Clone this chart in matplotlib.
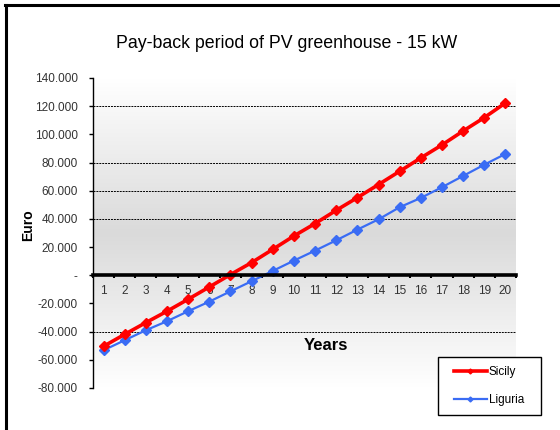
import matplotlib
matplotlib.use('Agg')
import matplotlib.pyplot as plt
import numpy as np
from matplotlib.lines import Line2D
from matplotlib.patches import Rectangle
from matplotlib.colors import LinearSegmentedColormap

plt.rcParams['font.family'] = ['Liberation Sans', 'DejaVu Sans']

years = list(range(1, 21))
sicily = [-50400, -41900, -33600, -25500, -17000, -8300, 500, 9000, 18400, 27900,
          36700, 46100, 55100, 64400, 73800, 83300, 92500, 102400, 111900, 122300]
liguria = [-53200, -46100, -39000, -32600, -25500, -18700, -11400, -4200, 3100, 10400,
           17500, 24800, 32400, 39700, 48300, 54900, 62500, 70500, 78500, 86100]
grid_levels = [120000, 80000, 60000, 40000, -40000]

fig = plt.figure(figsize=(5.6, 4.3), dpi=100)
ax = fig.add_axes([93/560, 1-388/430, (516-93)/560, (388-78)/430])

# background gradient white -> grey -> white
cmap = LinearSegmentedColormap.from_list('bg', ['#ffffff', '#dadada', '#ffffff'])
grad = np.linspace(0, 1, 256).reshape(-1, 1)
ax.imshow(grad, cmap=cmap, aspect='auto', extent=(0.5, 20.5, -80000, 140000),
          origin='upper', zorder=0)

for g in grid_levels:
    ax.axhline(g, color='black', lw=0.7, ls=(0, (2, 1)), zorder=1)

ax.plot(years, sicily, color='#ff0000', lw=2.6, marker='D', ms=5.5, mec='#ff0000',
        label='Sicily', zorder=4)
ax.plot(years, liguria, color='#3a6cf4', lw=1.6, marker='D', ms=5, mec='#3a6cf4',
        label='Liguria', zorder=3)

ax.set_xlim(0.5, 20.5)
ax.set_ylim(-80000, 140000)
ax.set_yticks(range(-80000, 140001, 20000))

def fmt(v, pos):
    if v == 0:
        return '-'
    return f"{int(v):,}".replace(',', '.')

ax.yaxis.set_major_formatter(plt.FuncFormatter(fmt))
ax.set_xticks(years)
ax.set_xticks(np.arange(0.5, 21, 1), minor=True)

for s in ['top', 'right']:
    ax.spines[s].set_visible(False)
ax.spines['bottom'].set_position(('data', 0))
ax.spines['bottom'].set_linewidth(2.6)
ax.spines['bottom'].set_zorder(5)
ax.spines['left'].set_linewidth(1.0)

ax.tick_params(axis='y', length=3, width=1, pad=8, labelsize=8.5, labelcolor='#333333')
ax.tick_params(axis='x', which='major', length=0, pad=7, labelsize=8.5, labelcolor='#333333')
ax.tick_params(axis='x', which='minor', length=2.5, width=1.5, direction='out')

fig.text(287/560, 1-43/430, 'Pay-back period of PV greenhouse - 15 kW',
         ha='center', va='center', fontsize=12.8)
fig.text(28/560, 1-225/430, 'Euro', rotation=90, ha='center', va='center',
         fontsize=10, fontweight='bold')
fig.text(326/560, 1-345/430, 'Years', ha='center', va='center',
         fontsize=12, fontweight='bold')

# legend box
fig.patches.append(Rectangle((438/560, 1-415/430), 103/560, 58/430, transform=fig.transFigure,
                             facecolor='white', edgecolor='black', lw=1, zorder=5))
handles = [Line2D([], [], color='#ff0000', lw=2.6, marker='D', ms=2.5),
           Line2D([], [], color='#3a6cf4', lw=1.6, marker='D', ms=2.5)]
leg = fig.legend(handles, ['Sicily', 'Liguria'], loc='center',
                 bbox_to_anchor=(489/560, 1-386/430), frameon=False, fontsize=8.5,
                 handlelength=2.8, handletextpad=0.15, labelspacing=1.4)
leg.set_zorder(6)

# outer frame
fig.lines.append(Line2D([5/560, 1], [1-5/430, 1-5/430], transform=fig.transFigure,
                        color='black', lw=2.2))
fig.lines.append(Line2D([6/560, 6/560], [0, 1-5/430], transform=fig.transFigure,
                        color='black', lw=2.2))

fig.savefig('out.png', dpi=100)
